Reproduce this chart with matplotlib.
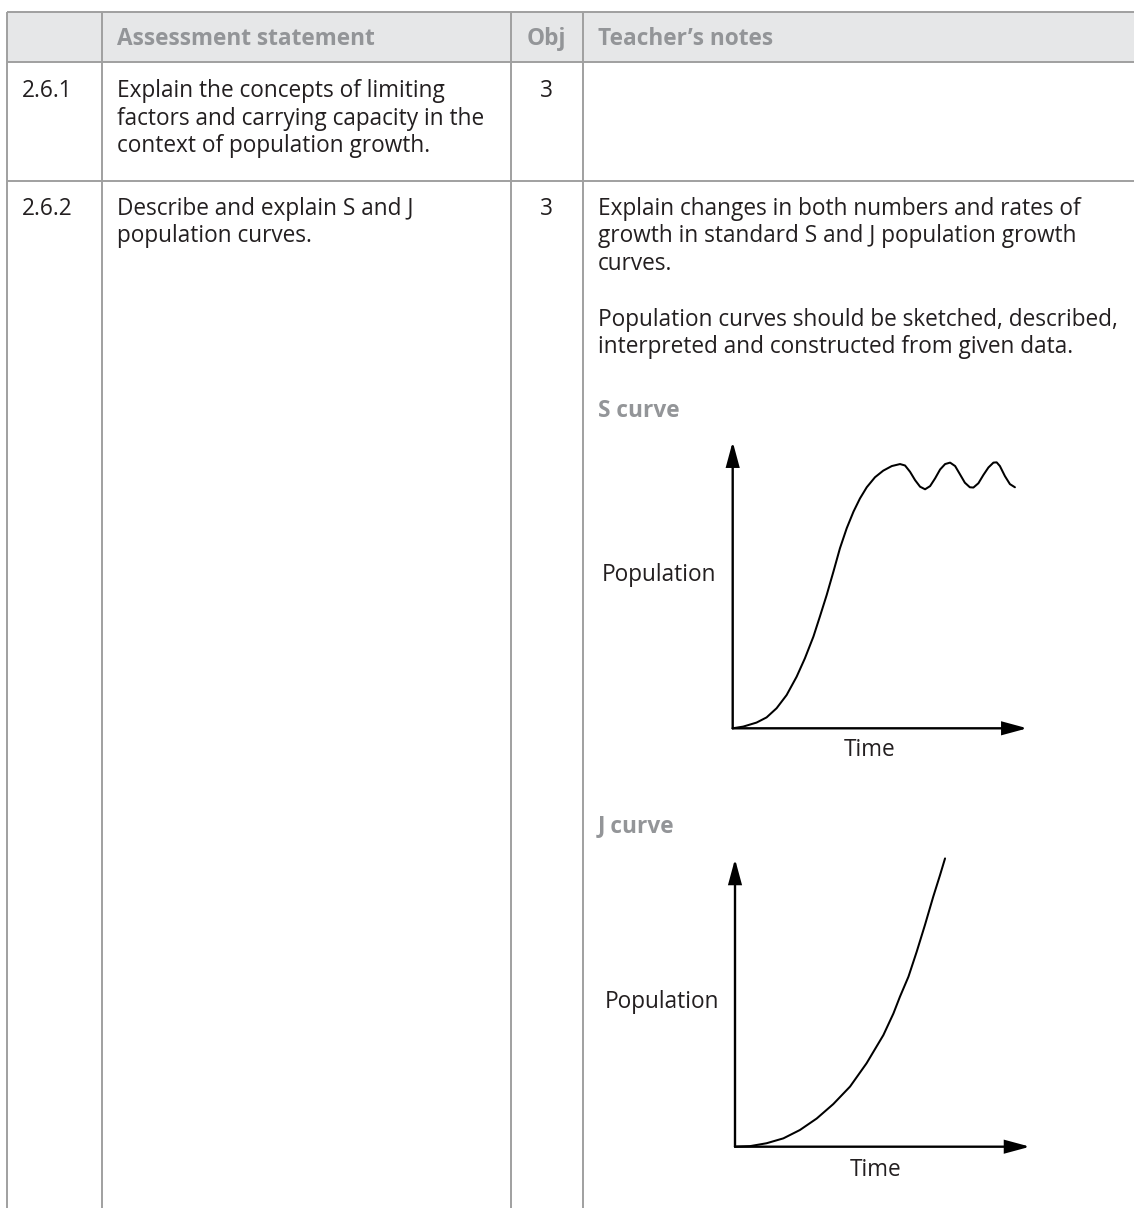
import matplotlib
matplotlib.use("Agg")
import matplotlib.pyplot as plt
from matplotlib.patches import Rectangle

plt.rcParams['font.family'] = ['Open Sans', 'DejaVu Sans']

# ---------------- data ----------------
header_labels = ["Assessment statement", "Obj", "Teacher\u2019s notes"]
row_ids = ["2.6.1", "2.6.2"]
row_statements = [
    ["Explain the concepts of limiting",
     "factors and carrying capacity in the",
     "context of population growth."],
    ["Describe and explain S and J",
     "population curves."],
]
row_objs = ["3", "3"]
notes_par1 = ["Explain changes in both numbers and rates of",
              "growth in standard S and J population growth",
              "curves."]
notes_par2 = ["Population curves should be sketched, described,",
              "interpreted and constructed from given data."]
s_title = "S curve"
j_title = "J curve"
x_label = "Time"
y_label = "Population"

# S curve (time, population) on a 0-10 sketch scale
s_time = [0.00, 0.36, 0.81, 1.15, 1.49, 1.83, 2.17, 2.45, 2.74, 2.96, 3.19,
          3.42, 3.64, 3.87, 4.10, 4.32, 4.55, 4.83, 5.11, 5.40, 5.68, 5.85,
          6.02, 6.19, 6.36, 6.53, 6.70, 6.87, 7.04, 7.21, 7.38, 7.55, 7.71,
          7.88, 8.05, 8.17, 8.34, 8.51, 8.68, 8.85, 8.96, 9.07, 9.24, 9.41,
          9.58]
s_pop = [0.00, 0.06, 0.20, 0.38, 0.70, 1.16, 1.80, 2.44, 3.20, 3.90, 4.65,
         5.47, 6.28, 6.98, 7.56, 8.02, 8.41, 8.76, 8.99, 9.15, 9.22, 9.17,
         8.95, 8.66, 8.43, 8.34, 8.45, 8.72, 9.03, 9.22, 9.27, 9.15, 8.87,
         8.57, 8.41, 8.40, 8.55, 8.84, 9.10, 9.27, 9.28, 9.15, 8.80, 8.52,
         8.41]

# J curve (time, population) on a 0-10 sketch scale
j_time = [0.00, 0.51, 1.07, 1.64, 2.20, 2.77, 3.33, 3.90, 4.46, 5.03, 5.37,
          5.59, 5.88, 6.16, 6.44, 6.72, 6.95, 7.12]
j_pop = [0.00, 0.02, 0.12, 0.29, 0.58, 0.98, 1.48, 2.09, 2.90, 3.88, 4.63,
         5.21, 5.91, 6.78, 7.71, 8.69, 9.44, 10.02]

# ---------------- styles / layout ----------------
W, H = 1134, 1208
FS = 16.3
BODY = "#231f20"
HEAD = "#939598"
FILL = "#e6e7e8"
GRID = "#a0a0a0"
LW_GRID = 1.4

fig = plt.figure(figsize=(W / 100, H / 100), dpi=100)
ax = fig.add_axes([0, 0, 1, 1])
ax.set_xlim(0, W)
ax.set_ylim(H, 0)
ax.axis("off")

col_x = [6.7, 102.3, 510.7, 582.7]
y_top, y_head, y_row = 12.3, 61.7, 181.0
pad = 15.0
obj_cx = (col_x[2] + col_x[3]) / 2
lh = 27.4

# header fill and grid lines
ax.add_patch(Rectangle((col_x[0], y_top), W - col_x[0], y_head - y_top,
                       facecolor=FILL, edgecolor="none", zorder=0))
for yy in (y_top, y_head, y_row):
    ax.plot([col_x[0], W], [yy, yy], color=GRID, lw=LW_GRID,
            solid_capstyle="butt", zorder=1)
for xx in col_x:
    ax.plot([xx, xx], [y_top, H], color=GRID, lw=LW_GRID,
            solid_capstyle="butt", zorder=1)

# header text
hb = 45.0
ax.text(col_x[1] + pad, hb, header_labels[0], fontsize=FS, fontweight="bold",
        color=HEAD, va="baseline", ha="left")
ax.text(obj_cx, hb, header_labels[1], fontsize=FS, fontweight="bold",
        color=HEAD, va="baseline", ha="center")
ax.text(col_x[3] + pad, hb, header_labels[2], fontsize=FS, fontweight="bold",
        color=HEAD, va="baseline", ha="left")

# rows
row_base = [97.3, 215.0]
for i in range(len(row_ids)):
    b = row_base[i]
    ax.text(col_x[0] + pad, b, row_ids[i], fontsize=FS, color=BODY,
            va="baseline", ha="left")
    for k, line in enumerate(row_statements[i]):
        ax.text(col_x[1] + pad, b + k * lh, line, fontsize=FS, color=BODY,
                va="baseline", ha="left")
    ax.text(obj_cx, b, row_objs[i], fontsize=FS, color=BODY,
            va="baseline", ha="center")

# teacher's notes
nx = col_x[3] + pad
for k, line in enumerate(notes_par1):
    ax.text(nx, 215.0 + k * lh, line, fontsize=FS, color=BODY,
            va="baseline", ha="left")
for k, line in enumerate(notes_par2):
    ax.text(nx, 326.0 + k * lh, line, fontsize=FS, color=BODY,
            va="baseline", ha="left")
ax.text(nx, 417.0, s_title, fontsize=FS, fontweight="bold", color=HEAD,
        va="baseline", ha="left")
ax.text(nx, 832.0, j_title, fontsize=FS, fontweight="bold", color=HEAD,
        va="baseline", ha="left")


def sketch(left_px, bottom_px, right_px, top_px, t, p, ylab_base, xlab_cx,
           xlab_base):
    a = fig.add_axes([left_px / W, (H - bottom_px) / H,
                      (right_px - left_px) / W, (bottom_px - top_px) / H])
    a.set_xlim(0, 10)
    a.set_ylim(0, 10)
    a.axis("off")
    ap = dict(arrowstyle="-|>,head_length=0.74,head_width=0.2",
              mutation_scale=20, lw=1.7, color="black",
              shrinkA=0, shrinkB=0, joinstyle="miter")
    a.annotate("", xy=(10, 0), xytext=(0, 0), arrowprops=ap,
               annotation_clip=False)
    a.annotate("", xy=(0, 10), xytext=(0, 0), arrowprops=ap,
               annotation_clip=False)
    a.plot(t, p, color="black", lw=1.45, clip_on=False,
           solid_joinstyle="round", solid_capstyle="round")
    ax.text(left_px - 16, ylab_base, y_label, fontsize=FS, color=BODY,
            va="baseline", ha="right")
    ax.text(xlab_cx, xlab_base, x_label, fontsize=FS, color=BODY,
            va="baseline", ha="center")


sketch(732.7, 728.3, 1027.3, 441.7, s_time, s_pop, 581.0, 870.0, 756.0)
sketch(735.0, 1146.7, 1030.0, 859.0, j_time, j_pop, 1008.0, 876.0, 1176.0)

fig.savefig("out.png", dpi=100)
